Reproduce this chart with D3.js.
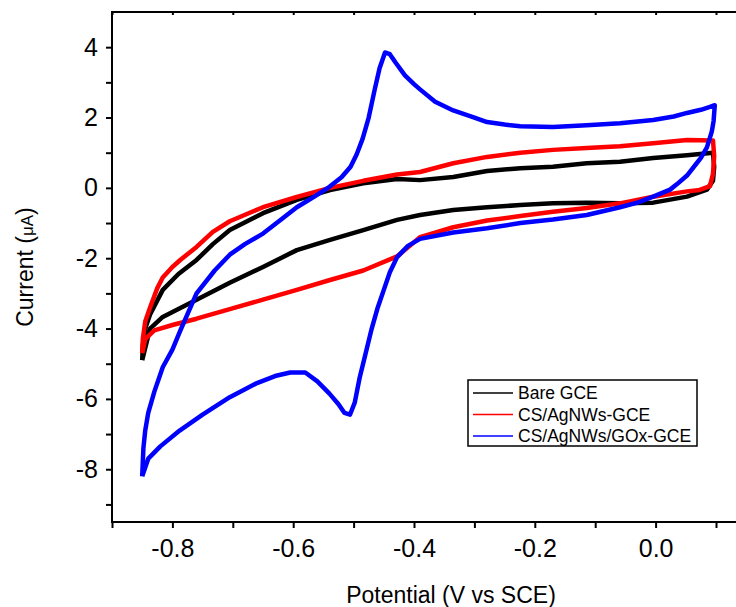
<!DOCTYPE html>
<html><head><meta charset="utf-8">
<script src="https://cdn.jsdelivr.net/npm/d3@7"></script>
<style>
body{margin:0;background:#fff}
svg{display:block}
text{font-family:"Liberation Sans",Arial,sans-serif;fill:#000}
</style>
</head><body>
<svg id="chart" width="736" height="607"></svg>
<script>
// ---- data ----
const seriesNames = ["Bare GCE", "CS/AgNWs-GCE", "CS/AgNWs/GOx-GCE"];
const seriesColors = ["#000000", "#ff0000", "#0000ff"];

const bareE = [-0.850,-0.849,-0.845,-0.837,-0.816,-0.790,-0.760,-0.733,-0.705,-0.650,-0.594,-0.539,-0.484,-0.428,-0.390,-0.335,-0.279,-0.224,-0.170,-0.114,-0.059,-0.004,0.052,0.095,
  0.097,0.095,0.085,0.052,-0.004,-0.059,-0.114,-0.170,-0.224,-0.279,-0.335,-0.390,-0.428,-0.484,-0.539,-0.594,-0.650,-0.705,-0.760,-0.816,-0.837,-0.850];
const bareI = [-4.9,-4.5,-4.0,-3.6,-2.9,-2.45,-2.05,-1.6,-1.2,-0.72,-0.34,-0.06,0.13,0.25,0.22,0.31,0.48,0.56,0.6,0.7,0.74,0.85,0.93,1.0,
  0.6,0.2,-0.05,-0.25,-0.42,-0.44,-0.42,-0.44,-0.49,-0.55,-0.63,-0.77,-0.91,-1.2,-1.48,-1.77,-2.25,-2.7,-3.18,-3.67,-4.0,-4.9];

const agE = [-0.850,-0.849,-0.845,-0.837,-0.825,-0.816,-0.800,-0.787,-0.760,-0.733,-0.705,-0.650,-0.594,-0.539,-0.484,-0.428,-0.390,-0.335,-0.279,-0.224,-0.170,-0.114,-0.059,-0.004,0.052,0.095,
  0.097,0.095,0.090,0.073,0.052,-0.004,-0.059,-0.114,-0.170,-0.224,-0.279,-0.335,-0.390,-0.428,-0.484,-0.539,-0.594,-0.650,-0.705,-0.760,-0.800,-0.830,-0.845,-0.850];
const agI = [-4.7,-4.3,-3.8,-3.4,-2.85,-2.55,-2.25,-2.05,-1.68,-1.25,-0.95,-0.55,-0.26,0.0,0.2,0.38,0.45,0.7,0.88,1.0,1.08,1.13,1.18,1.27,1.36,1.35,
  0.9,0.4,0.05,-0.06,-0.1,-0.25,-0.44,-0.57,-0.68,-0.8,-0.93,-1.12,-1.4,-1.95,-2.35,-2.62,-2.9,-3.18,-3.45,-3.72,-3.9,-4.05,-4.3,-4.7];

const goxE = [-0.850,-0.848,-0.845,-0.840,-0.830,-0.816,-0.800,-0.788,-0.760,-0.730,-0.705,-0.680,-0.650,-0.620,-0.594,-0.565,-0.540,-0.520,-0.505,-0.495,-0.485,-0.475,-0.465,-0.457,-0.448,-0.440,-0.430,-0.415,-0.400,-0.390,-0.365,-0.335,-0.300,-0.279,-0.250,-0.224,-0.170,-0.114,-0.059,-0.004,0.030,0.052,0.075,0.090,0.098,
  0.096,0.093,0.085,0.075,0.068,0.052,0.035,0.024,-0.004,-0.030,-0.059,-0.114,-0.170,-0.224,-0.279,-0.335,-0.390,-0.410,-0.428,-0.440,-0.450,-0.460,-0.470,-0.480,-0.490,-0.498,-0.506,-0.515,-0.525,-0.540,-0.560,-0.580,-0.605,-0.630,-0.660,-0.705,-0.750,-0.788,-0.820,-0.840,-0.850];
const goxI = [-8.2,-7.4,-6.9,-6.4,-5.8,-5.1,-4.6,-4.1,-3.0,-2.35,-1.9,-1.6,-1.3,-0.9,-0.55,-0.25,0.03,0.3,0.6,0.95,1.4,2.0,2.8,3.4,3.85,3.8,3.55,3.2,2.95,2.8,2.45,2.2,2.0,1.87,1.8,1.75,1.73,1.78,1.84,1.93,2.03,2.13,2.22,2.3,2.35,
  1.9,1.6,1.15,0.85,0.7,0.35,0.1,-0.05,-0.25,-0.42,-0.55,-0.77,-0.9,-1.0,-1.15,-1.27,-1.45,-1.65,-1.97,-2.4,-2.9,-3.4,-4.0,-4.7,-5.4,-6.1,-6.45,-6.4,-6.15,-5.85,-5.5,-5.25,-5.25,-5.35,-5.55,-5.95,-6.45,-6.9,-7.35,-7.7,-8.2];

const xTicks = [-0.8, -0.6, -0.4, -0.2, 0.0];
const xMinorTicks = [-0.9, -0.7, -0.5, -0.3, -0.1, 0.1];
const yTicks = [4, 2, 0, -2, -4, -6, -8];
const yMinorTicks = [3, 1, -1, -3, -5, -7, -9];

// ---- layout ----
const L = 112, T = 12, B = 522;
const pxPerV = 604;
const xDomain = [-0.9, 0.2];
const yDomain = [-9.5, 5];

const svg = d3.select("#chart");
const x = d3.scaleLinear().domain(xDomain).range([L, L + (xDomain[1] - xDomain[0]) * pxPerV]);
const y = d3.scaleLinear().domain(yDomain).range([B, T]);
const R = x.range()[1];

svg.append("defs").append("clipPath").attr("id", "plotclip")
  .append("rect").attr("x", L).attr("y", T).attr("width", R - L).attr("height", B - T);

// data
const series = [
  {E: bareE, I: bareI},
  {E: agE, I: agI},
  {E: goxE, I: goxI}
];
const line = d3.line().x(d => x(d[0])).y(d => y(d[1]));
const gData = svg.append("g").attr("clip-path", "url(#plotclip)");
series.forEach((s, k) => {
  const pts = s.E.map((e, i) => [e, s.I[i]]);
  gData.append("path").datum(pts)
    .attr("d", line)
    .attr("fill", "none")
    .attr("stroke", seriesColors[k])
    .attr("stroke-width", 4.5)
    .attr("stroke-linejoin", "round");
});

// axes
const fmtX = d => d.toFixed(1);
const fmtY = d => String(d);

svg.append("g").attr("transform", `translate(0,${B})`)
  .call(d3.axisBottom(x).tickValues(xTicks).tickSize(6).tickPadding(11).tickFormat(fmtX));
svg.append("g").attr("transform", `translate(0,${B})`)
  .call(d3.axisBottom(x).tickValues(xMinorTicks).tickSize(6).tickFormat(""));
svg.append("g").attr("transform", `translate(${L},0)`)
  .call(d3.axisLeft(y).tickValues(yTicks).tickSize(6).tickPadding(8).tickFormat(fmtY));
svg.append("g").attr("transform", `translate(${L},0)`)
  .call(d3.axisLeft(y).tickValues(yMinorTicks).tickSize(6).tickFormat(""));
// top axis small inward ticks
svg.append("g").attr("transform", `translate(0,${T})`)
  .call(d3.axisBottom(x).tickValues(xTicks.concat(xMinorTicks)).tickSize(3).tickFormat(""));

svg.selectAll(".domain").remove();
svg.selectAll(".tick line").attr("stroke", "#000").attr("stroke-width", 2);
svg.selectAll(".tick text").attr("font-size", 25).attr("font-family", '"Liberation Sans",Arial,sans-serif');

// frame
svg.append("line").attr("x1", L).attr("x2", L).attr("y1", T - 1).attr("y2", B + 1).attr("stroke", "#000").attr("stroke-width", 2);
svg.append("line").attr("x1", L - 1).attr("x2", R).attr("y1", B).attr("y2", B).attr("stroke", "#000").attr("stroke-width", 2);
svg.append("line").attr("x1", L - 1).attr("x2", R).attr("y1", T).attr("y2", T).attr("stroke", "#000").attr("stroke-width", 2);
svg.append("line").attr("x1", R).attr("x2", R).attr("y1", T).attr("y2", B).attr("stroke", "#000").attr("stroke-width", 2);

// axis titles
svg.append("text").attr("x", 451).attr("y", 603).attr("text-anchor", "middle")
  .attr("font-size", 23).text("Potential (V vs SCE)");
const yt = svg.append("text").attr("transform", `translate(33,${(T + B) / 2}) rotate(-90)`)
  .attr("text-anchor", "middle").attr("font-size", 23);
yt.append("tspan").text("Current (");
yt.append("tspan").attr("font-size", 17).text("μA");
yt.append("tspan").text(")");

// legend
const lg = svg.append("g");
lg.append("rect").attr("x", 468).attr("y", 380).attr("width", 229).attr("height", 66)
  .attr("fill", "#fff").attr("stroke", "#000").attr("stroke-width", 1.5);
seriesNames.forEach((name, k) => {
  const yy = 393 + k * 21.5;
  lg.append("line").attr("x1", 473).attr("x2", 513).attr("y1", yy).attr("y2", yy)
    .attr("stroke", seriesColors[k]).attr("stroke-width", 1.5);
  lg.append("text").attr("x", 518).attr("y", yy + 6).attr("font-size", 17.5).text(name);
});
</script>
</body></html>
